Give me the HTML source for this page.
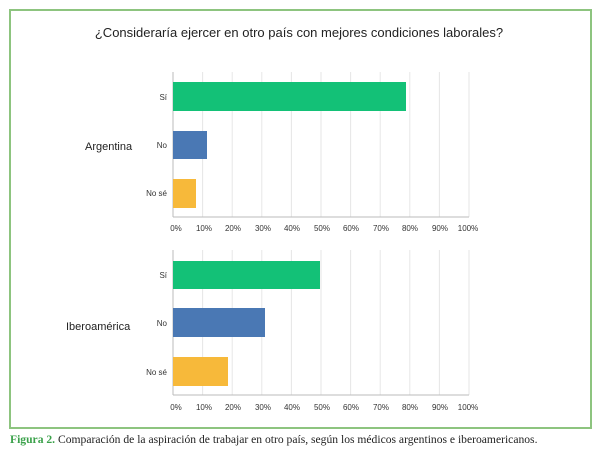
<!DOCTYPE html>
<html><head><meta charset="utf-8"><style>
body{margin:0;width:605px;height:457px;background:#fff;overflow:hidden;position:relative;font-family:"Liberation Sans",sans-serif}
.box{position:absolute;left:9px;top:9px;width:583px;height:420px;border:2px solid #8dc47f;box-sizing:border-box}
.cap{position:absolute;left:10px;top:433px;font-family:"Liberation Serif",serif;font-size:11.6px;color:#222;white-space:nowrap}
.cap b{color:#3aa14a}
</style></head><body>
<div class="box"></div>
<svg width="605" height="457" style="position:absolute;left:0;top:0" font-family="Liberation Sans, sans-serif">
<text x="299" y="37" font-size="13" text-anchor="middle" fill="#222">¿Consideraría ejercer en otro país con mejores condiciones laborales?</text>
<g stroke="#e6e6e6" stroke-width="1">
<line x1="202.6" y1="72" x2="202.6" y2="217"/><line x1="232.2" y1="72" x2="232.2" y2="217"/><line x1="261.8" y1="72" x2="261.8" y2="217"/><line x1="291.4" y1="72" x2="291.4" y2="217"/><line x1="321" y1="72" x2="321" y2="217"/><line x1="350.6" y1="72" x2="350.6" y2="217"/><line x1="380.2" y1="72" x2="380.2" y2="217"/><line x1="409.8" y1="72" x2="409.8" y2="217"/><line x1="439.4" y1="72" x2="439.4" y2="217"/><line x1="469" y1="72" x2="469" y2="217"/>
<line x1="202.6" y1="250" x2="202.6" y2="395"/><line x1="232.2" y1="250" x2="232.2" y2="395"/><line x1="261.8" y1="250" x2="261.8" y2="395"/><line x1="291.4" y1="250" x2="291.4" y2="395"/><line x1="321" y1="250" x2="321" y2="395"/><line x1="350.6" y1="250" x2="350.6" y2="395"/><line x1="380.2" y1="250" x2="380.2" y2="395"/><line x1="409.8" y1="250" x2="409.8" y2="395"/><line x1="439.4" y1="250" x2="439.4" y2="395"/><line x1="469" y1="250" x2="469" y2="395"/>
</g>
<g stroke="#bbb"><line x1="173" y1="72" x2="173" y2="217"/><line x1="173" y1="217" x2="469" y2="217"/><line x1="173" y1="250" x2="173" y2="395"/><line x1="173" y1="395" x2="469" y2="395"/></g>
<rect x="173" y="82" width="233" height="29" fill="#13c177"/>
<rect x="173" y="131" width="34" height="28" fill="#4a78b4"/>
<rect x="173" y="179" width="23" height="29" fill="#f7b93a"/>
<rect x="173" y="261" width="147" height="28" fill="#13c177"/>
<rect x="173" y="308" width="92" height="29" fill="#4a78b4"/>
<rect x="173" y="357" width="55" height="29" fill="#f7b93a"/>
<g font-size="8" fill="#333" text-anchor="end">
<text x="167" y="100">Sí</text><text x="167" y="148">No</text><text x="167" y="196">No sé</text>
<text x="167" y="278">Sí</text><text x="167" y="326">No</text><text x="167" y="375">No sé</text>
</g>
<text x="85" y="150" font-size="11" fill="#222">Argentina</text>
<text x="66" y="330" font-size="11" fill="#222">Iberoamérica</text>
<g font-size="8" fill="#333" text-anchor="middle">
<text x="176" y="231">0%</text><text x="204" y="231">10%</text><text x="233" y="231">20%</text><text x="263" y="231">30%</text><text x="292" y="231">40%</text><text x="322" y="231">50%</text><text x="351" y="231">60%</text><text x="381" y="231">70%</text><text x="410" y="231">80%</text><text x="440" y="231">90%</text><text x="468" y="231">100%</text>
<text x="176" y="410">0%</text><text x="204" y="410">10%</text><text x="233" y="410">20%</text><text x="263" y="410">30%</text><text x="292" y="410">40%</text><text x="322" y="410">50%</text><text x="351" y="410">60%</text><text x="381" y="410">70%</text><text x="410" y="410">80%</text><text x="440" y="410">90%</text><text x="468" y="410">100%</text>
</g>
</svg>
<div class="cap"><b>Figura 2.</b> Comparación de la aspiración de trabajar en otro país, según los médicos argentinos e iberoamericanos.</div>
</body></html>
